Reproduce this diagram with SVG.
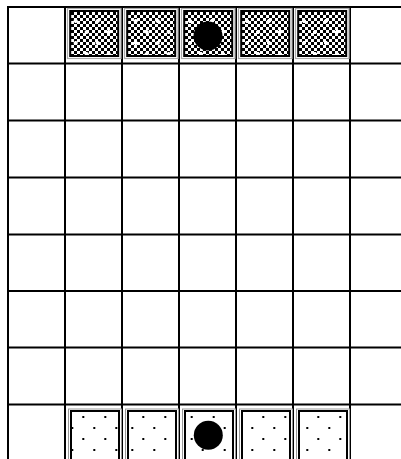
<svg xmlns="http://www.w3.org/2000/svg" width="401" height="459" viewBox="0 0 401 459">
<style>
.grid line{stroke:#000;stroke-width:2}
.frameT{fill:none;stroke:#aaa;stroke-width:1.2}
.frameB{fill:none;stroke:#999;stroke-width:1}
.edge{fill:none;stroke:#000;stroke-width:2}
.piece{fill:#000}
</style>
<defs>
<pattern id="checker" patternUnits="userSpaceOnUse" width="6" height="6">
<rect width="6" height="6" fill="#fff"/>
<rect width="3" height="3" fill="#000"/>
<rect x="3" y="3" width="3" height="3" fill="#000"/>
</pattern>
<pattern id="wdots" patternUnits="userSpaceOnUse" x="0" y="15" width="22" height="22">
<path d="M4 5h4v2h-4z M5 4h2v4h-2z M15 16h4v2h-4z M16 15h2v4h-2z" fill="#fff"/>
<rect x="4.5" y="4.5" width="3" height="3" fill="#fff"/>
<rect x="15.5" y="15.5" width="3" height="3" fill="#fff"/>
</pattern>
<pattern id="bdots" patternUnits="userSpaceOnUse" x="0" y="411" width="22" height="22">
<rect x="5" y="5" width="2" height="2" fill="#000"/>
<rect x="16" y="16" width="2" height="2" fill="#000"/>
</pattern>
</defs>
<rect width="401" height="459" fill="#fff"/>
<g id="grid" class="grid">
<line x1="7" y1="7" x2="401" y2="7"/>
<line x1="7" y1="63.5" x2="401" y2="63.5"/>
<line x1="7" y1="120.5" x2="401" y2="120.5"/>
<line x1="7" y1="177.5" x2="401" y2="177.5"/>
<line x1="7" y1="234.5" x2="401" y2="234.5"/>
<line x1="7" y1="291" x2="401" y2="291"/>
<line x1="7" y1="347.5" x2="401" y2="347.5"/>
<line x1="7" y1="404.5" x2="401" y2="404.5"/>
<line x1="8" y1="6" x2="8" y2="459"/>
<line x1="65" y1="6" x2="65" y2="459"/>
<line x1="122" y1="6" x2="122" y2="459"/>
<line x1="179" y1="6" x2="179" y2="459"/>
<line x1="236" y1="6" x2="236" y2="459"/>
<line x1="293" y1="6" x2="293" y2="459"/>
<line x1="350" y1="6" x2="350" y2="459"/>
</g>
<g id="top-tiles">
<g id="top-tile-1" transform="translate(65,0)">
<rect class="frameT" x="2.5" y="8.5" width="53.5" height="50"/>
<rect x="5.2" y="11" width="48" height="45" fill="url(#checker)"/>
<rect x="0.5" y="11" width="48" height="45" transform="translate(4.7,0)" fill="url(#wdots)"/>
<rect class="edge" x="5.2" y="11" width="48" height="45"/>
</g>
<g id="top-tile-2" transform="translate(122,0)">
<rect class="frameT" x="2.5" y="8.5" width="53.5" height="50"/>
<rect x="5.2" y="11" width="48" height="45" fill="url(#checker)"/>
<rect x="-2.5" y="11" width="48" height="45" transform="translate(7.7,0)" fill="url(#wdots)"/>
<rect class="edge" x="5.2" y="11" width="48" height="45"/>
</g>
<g id="top-tile-3" transform="translate(179,0)">
<rect class="frameT" x="2.5" y="8.5" width="53.5" height="50"/>
<rect x="5.2" y="11" width="48" height="45" fill="url(#checker)"/>
<rect x="0.2" y="11" width="48" height="45" transform="translate(5,0)" fill="url(#wdots)"/>
<rect class="edge" x="5.2" y="11" width="48" height="45"/>
</g>
<g id="top-tile-4" transform="translate(236,0)">
<rect class="frameT" x="2.5" y="8.5" width="53.5" height="50"/>
<rect x="5.2" y="11" width="48" height="45" fill="url(#checker)"/>
<rect x="0.2" y="11" width="48" height="45" transform="translate(5,0)" fill="url(#wdots)"/>
<rect class="edge" x="5.2" y="11" width="48" height="45"/>
</g>
<g id="top-tile-5" transform="translate(293,0)">
<rect class="frameT" x="2.5" y="8.5" width="53.5" height="50"/>
<rect x="5.2" y="11" width="48" height="45" fill="url(#checker)"/>
<rect x="0.2" y="11" width="48" height="45" transform="translate(5,0)" fill="url(#wdots)"/>
<rect class="edge" x="5.2" y="11" width="48" height="45"/>
</g>
</g>
<g id="bottom-tiles">
<g id="bottom-tile-1" transform="translate(65,0)">
<rect class="frameB" x="3.5" y="409" width="53" height="60"/>
<rect x="-6.3" y="411" width="48" height="60" transform="translate(12.3,0)" fill="url(#bdots)"/>
<rect class="edge" x="6" y="411" width="48" height="60"/>
</g>
<g id="bottom-tile-2" transform="translate(122,0)">
<rect class="frameB" x="3.5" y="409" width="53" height="60"/>
<rect x="-9.3" y="411" width="48" height="60" transform="translate(15.3,0)" fill="url(#bdots)"/>
<rect class="edge" x="6" y="411" width="48" height="60"/>
</g>
<g id="bottom-tile-3" transform="translate(179,0)">
<rect class="frameB" x="3.5" y="409" width="53" height="60"/>
<rect x="-0.7" y="411" width="48" height="60" transform="translate(6.7,0)" fill="url(#bdots)"/>
<rect class="edge" x="6" y="411" width="48" height="60"/>
</g>
<g id="bottom-tile-4" transform="translate(236,0)">
<rect class="frameB" x="3.5" y="409" width="53" height="60"/>
<rect x="-15.3" y="411" width="48" height="60" transform="translate(21.3,0)" fill="url(#bdots)"/>
<rect class="edge" x="6" y="411" width="48" height="60"/>
</g>
<g id="bottom-tile-5" transform="translate(293,0)">
<rect class="frameB" x="3.5" y="409" width="53" height="60"/>
<rect x="-13.3" y="411" width="48" height="60" transform="translate(19.3,0)" fill="url(#bdots)"/>
<rect class="edge" x="6" y="411" width="48" height="60"/>
</g>
</g>
<g id="pieces">
<circle id="piece-top" class="piece" cx="208" cy="36" r="14.5"/>
<circle id="piece-bottom" class="piece" cx="208.3" cy="435.3" r="14.5"/>
</g>
</svg>
